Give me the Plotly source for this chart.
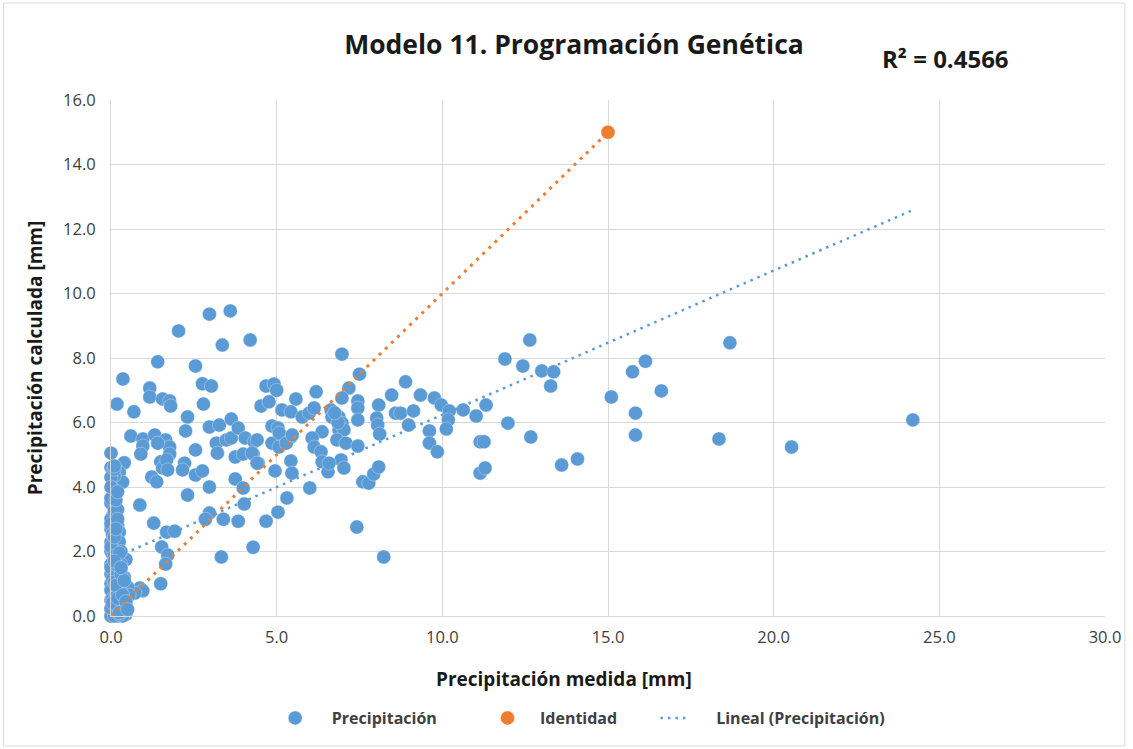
import plotly.graph_objects as go

# ---- data ----
obs_x = [
    # upper-left cloud
    2.97, 3.6, 2.04, 3.36, 4.2, 1.41, 2.55, 0.36, 1.17, 2.76, 3.03, 1.17, 1.56, 1.77, 1.8, 0.18, 0.69, 2.79, 2.31, 2.25,
    0.6, 0.96, 0.96, 0.9, 1.32, 1.65, 1.77, 1.77, 1.41, 1.5, 1.56, 1.23, 1.38, 2.55, 2.22, 2.16, 2.55, 2.76, 2.97, 2.31,
    0.87, 2.97, 3.27, 3.63, 3.18, 3.21, 3.48, 3.63, 3.84, 3.75, 3.99, 4.29, 4.44, 4.68, 4.92, 5.0, 4.53, 4.77, 5.58, 5.16,
    5.43, 4.86, 5.04, 4.86, 5.07, 5.43, 4.95, 5.43, 5.46, 3.75, 3.99, 5.31, 4.02, 2.97, 2.85, 3.39, 3.84, 4.68, 5.04, 1.29,
    1.68, 1.92, 1.53, 1.71, 1.65, 1.5, 3.33, 4.29, 0.87, 0.96, 0.72, 4.05, 4.32, 4.41, 4.26, 4.41, 1.68, 1.71,
    # middle cloud
    6.97, 7.5, 7.18, 6.97, 7.45, 7.45, 7.45, 6.19, 5.77, 5.98, 6.13, 6.64, 6.67, 6.88, 6.97, 6.88, 7.03, 6.82, 7.09, 6.94,
    7.03, 6.37, 6.07, 6.13, 6.34, 6.37, 6.55, 6.58, 5.08, 5.29, 5.47, 6.0, 7.42, 8.23, 8.08, 8.89, 8.47, 8.59, 8.74, 9.13,
    9.34, 8.02, 8.05, 8.11, 7.45, 8.98, 9.76, 9.97, 10.21, 10.18, 10.12, 9.61, 9.61, 9.85, 10.63, 11.02, 11.32, 11.89, 12.43, 12.64,
    11.98, 11.14, 11.26, 11.14, 11.29, 7.6, 7.78, 7.93, 8.08, 13.0, 13.36, 13.27, 16.13, 15.74, 16.61, 15.1, 15.83, 15.83, 12.67, 13.6,
    14.08, 18.68, 18.35, 20.54, 24.2, 6.85, 6.75,
    # column near zero
    0.0, 0.0, 0.4, 0.25, 0.1, 0.35, 0.1, 0.1, 0.05, 0.2, 0.25, 0.25, 0.0, 0.05, 0.45, 0.0, 0.15, 0.05, 0.2, 0.0,
    0.3, 0.1, 0.4, 0.05, 0.2, 0.35, 0.0, 0.1, 0.25, 0.0, 0.15, 0.3, 0.45, 0.05, 0.2, 0.0, 0.1, 0.0, 0.0, 0.0,
    0.05, 0.1, 0.0, 0.1, 0.35, 0.25, 0.15, 0.0, 0.3, 0.5, 0.55, 0.4, 0.3, 0.15,
    0.0, 0.05, 0.0, 0.1, 0.0, 0.05, 0.0, 0.1, 0.0, 0.05, 0.2, 0.3, 0.4, 0.35, 0.2, 0.1, 0.25, 0.15, 0.45, 0.3,
    0.0, 0.05, 0.15, 0.0, 0.1, 0.2, 0.05, 0.0, 0.1, 0.2,
    0.15, 0.2, 0.1, 0.25, 0.15, 0.05, 0.2, 0.1, 0.3, 0.35, 0.4, 0.25, 0.45, 0.5, 0.3, 0.15, 0.2, 0.1,
]
obs_y = [
    9.36, 9.46, 8.84, 8.4, 8.56, 7.88, 7.75, 7.35, 7.07, 7.2, 7.13, 6.79, 6.73, 6.67, 6.51, 6.57, 6.33, 6.57, 6.17, 5.74,
    5.58, 5.49, 5.27, 5.02, 5.61, 5.46, 5.24, 5.02, 5.36, 4.78, 4.59, 4.31, 4.16, 5.15, 4.74, 4.53, 4.37, 4.5, 4.0, 3.75,
    3.44, 5.86, 5.92, 6.11, 5.36, 5.05, 5.46, 5.52, 5.83, 4.93, 5.02, 5.02, 4.74, 7.13, 7.19, 7.0, 6.51, 6.64, 6.73, 6.39,
    6.33, 5.89, 5.83, 5.36, 5.24, 5.55, 4.5, 4.81, 4.43, 4.25, 3.97, 3.66, 3.47, 3.19, 3.0, 3.0, 2.94, 2.94, 3.22, 2.88,
    2.6, 2.63, 2.14, 1.89, 1.61, 1.0, 1.83, 2.13, 0.87, 0.78, 0.71, 5.52, 5.4, 5.46, 5.05, 4.74, 4.84, 4.53,
    8.12, 7.5, 7.07, 6.76, 6.67, 6.45, 6.08, 6.95, 6.17, 6.29, 6.45, 6.39, 6.17, 6.17, 5.98, 5.77, 5.77, 5.46, 5.36, 4.84,
    4.59, 5.71, 5.52, 5.24, 5.09, 4.78, 4.47, 4.74, 5.67, 5.36, 5.61, 3.97, 2.76, 1.83, 6.54, 7.26, 6.85, 6.29, 6.29, 6.36,
    6.85, 6.14, 5.92, 5.64, 5.27, 5.92, 6.76, 6.54, 6.36, 6.08, 5.8, 5.74, 5.36, 5.09, 6.39, 6.2, 6.54, 7.97, 7.75, 8.56,
    5.98, 5.4, 5.4, 4.43, 4.59, 4.16, 4.12, 4.4, 4.62, 7.6, 7.57, 7.13, 7.9, 7.57, 6.98, 6.79, 6.29, 5.61, 5.55, 4.68,
    4.87, 8.47, 5.49, 5.24, 6.08, 6.0, 6.3,
    5.05, 4.6, 4.75, 4.45, 4.15, 4.15, 3.8, 3.4, 3.1, 2.8, 2.6, 2.3, 2.0, 1.9, 1.75, 1.6, 1.4, 1.2, 1.1, 1.0,
    0.95, 0.85, 0.9, 0.7, 0.6, 0.5, 0.5, 0.4, 0.3, 0.2, 0.15, 0.1, 0.05, 0.05, 0.0, 0.0, 0.3, 2.7, 3.0, 3.5,
    4.5, 4.35, 1.3, 0.0, 0.0, 0.75, 1.75, 2.3, 2.0, 0.9, 0.65, 0.25, 1.45, 0.55,
    4.3, 3.95, 3.65, 3.25, 2.85, 2.5, 2.15, 1.85, 1.5, 1.15, 1.3, 1.6, 1.2, 0.35, 0.45, 0.2, 0.05, 0.8, 0.3, 0.75,
    0.8, 0.55, 0.6, 0.25, 1.05, 1.55, 2.55, 4.0, 4.55, 3.3,
    3.6, 3.0, 2.45, 1.95, 0.95, 0.4, 0.55, 1.7, 1.3, 0.65, 1.1, 0.1, 0.45, 0.2, 1.5, 2.7, 3.85, 4.65,
]

identity_x = [0.0, 15.0]
identity_y = [0.0, 15.0]

trend_intercept = 1.76
trend_slope = 0.4475
trend_x = [0.0, max(obs_x)]
trend_y = [trend_intercept + trend_slope * v for v in trend_x]

x_ticks = [0, 5, 10, 15, 20, 25, 30]
y_ticks = [0, 2, 4, 6, 8, 10, 12, 14, 16]

BLUE = "#5b9bd5"
ORANGE = "#ed7d31"
FONT = "Open Sans"
NBSP = "\u00a0"

fig = go.Figure()
fig.add_trace(go.Scatter(
    x=identity_x, y=identity_y, mode="markers", name=NBSP * 3 + "<b>Identidad</b>" + NBSP * 8,
    legendrank=2, cliponaxis=False,
    marker=dict(color=ORANGE, size=14, line=dict(color="rgba(255,255,255,0.6)", width=0.5)),
))
fig.add_trace(go.Scatter(
    x=obs_x, y=obs_y, mode="markers", name=NBSP * 4 + "<b>Precipitación</b>" + NBSP * 11,
    legendrank=1, cliponaxis=False,
    marker=dict(color=BLUE, size=14, line=dict(color="rgba(255,255,255,0.6)", width=0.5)),
))
fig.add_trace(go.Scatter(
    x=identity_x, y=identity_y, mode="lines", showlegend=False, hoverinfo="skip",
    line=dict(color=ORANGE, width=3, dash="3px,5.5px"),
))
fig.add_trace(go.Scatter(
    x=trend_x, y=trend_y, mode="lines", name=NBSP * 5 + "<b>Lineal (Precipitación)</b>",
    legendrank=3,
    line=dict(color=BLUE, width=2.5, dash="2.5px,5px"),
))

fig.update_layout(
    width=1133, height=749,
    margin=dict(l=111, r=23, t=100, b=133),
    paper_bgcolor="white", plot_bgcolor="white",
    font=dict(family=FONT, color="#404040"),
    title=dict(
        text="<b>Modelo 11. Programación Genética</b>",
        x=574 / 1133, xanchor="center", xref="container",
        y=1 - 45 / 749, yanchor="middle", yref="container",
        font=dict(family=FONT, size=26.5, color="#1a1a1a"),
    ),
    showlegend=True,
    legend=dict(
        orientation="h", x=(276 - 111) / 999, xanchor="left", y=(616 - 718) / 516, yanchor="middle",
        font=dict(family=FONT, size=16, color="#404040"),
        itemwidth=30,
    ),
    xaxis=dict(
        range=[0, 30], tickvals=x_ticks, ticktext=[f"{v:.1f}" for v in x_ticks],
        showgrid=True, gridcolor="#d9d9d9", gridwidth=1,
        zeroline=False, showline=True, linecolor="#d9d9d9", linewidth=1,
        ticks="", ticklabelstandoff=6,
        tickfont=dict(family=FONT, size=16.5, color="#404040"),
        fixedrange=True,
    ),
    yaxis=dict(
        range=[0, 16], tickvals=y_ticks, ticktext=[f"{v:.1f}" for v in y_ticks],
        showgrid=True, gridcolor="#d9d9d9", gridwidth=1,
        zeroline=False, showline=True, linecolor="#d9d9d9", linewidth=1,
        ticks="", ticklabelstandoff=11,
        tickfont=dict(family=FONT, size=16.5, color="#404040"),
        title=dict(text="<b>Precipitación calculada [mm]</b>", standoff=15,
                   font=dict(family=FONT, size=19, color="#1a1a1a")),
        fixedrange=True,
    ),
    annotations=[
        dict(
            text="<b>R² = 0.4566</b>", xref="paper", yref="paper",
            x=(950 - 111) / 999, y=(616 - 58) / 516, showarrow=False,
            xanchor="center", yanchor="middle",
            font=dict(family=FONT, size=24, color="#1a1a1a"),
        ),
        dict(
            text="<b>Precipitación medida [mm]</b>", xref="paper", yref="paper",
            x=(566 - 111) / 999, y=(616 - 679) / 516, showarrow=False,
            xanchor="center", yanchor="middle",
            font=dict(family=FONT, size=19, color="#1a1a1a"),
        ),
    ],
    shapes=[dict(
        type="rect", xref="paper", yref="paper",
        x0=(3 - 111) / 999, x1=(1130 - 111) / 999,
        y0=(616 - 746) / 516, y1=(616 - 3) / 516,
        line=dict(color="#d9d9d9", width=1), fillcolor="rgba(0,0,0,0)", layer="below",
    )],
)

fig.write_html(
    "out.html",
    config={"displayModeBar": False},
    post_script="document.body.style.margin='0';document.body.style.padding='0';",
)
